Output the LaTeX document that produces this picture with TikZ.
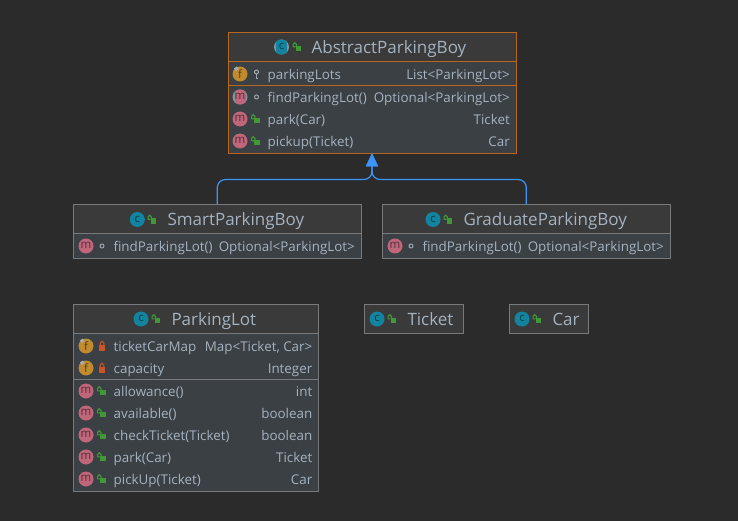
\documentclass[tikz,border=0pt]{standalone}
\usepackage{fontspec}
\setmainfont{Open Sans}
\usetikzlibrary{arrows.meta}
\definecolor{bg}{HTML}{2B2B2B}
\definecolor{headbg}{HTML}{3A3A3A}
\definecolor{bodybg}{HTML}{3B4044}
\definecolor{edge}{HTML}{77797B}
\definecolor{sel}{HTML}{B9661F}
\definecolor{txt}{HTML}{A5B2C0}
\definecolor{teal}{HTML}{12849F}
\definecolor{pink}{HTML}{C0667A}
\definecolor{gold}{HTML}{C08A2E}
\definecolor{lockg}{HTML}{3F9A35}
\definecolor{locko}{HTML}{C9542A}
\definecolor{dotc}{HTML}{9AA5B0}
\definecolor{blue}{HTML}{3D94F6}
\newcounter{nn}
\tikzset{
  x=1pt,y=-1pt,
  boxshape/.style={rectangle,inner sep=0,outer sep=0,line width=1pt},
  titletext/.style={anchor=base west,inner sep=0,text=txt,font=\fontsize{17}{18}\selectfont},
  rowtext/.style={anchor=base west,inner sep=0,text=txt,font=\fontsize{13.4}{15}\selectfont},
  rowtype/.style={anchor=base east,inner sep=0,text=txt,font=\fontsize{13.4}{15}\selectfont},
  badge/.style={circle,inner sep=0,minimum size=15pt,text=#1!45!black,font=\fontsize{11.5}{12}\selectfont},
  conn/.style={draw=blue,line width=1.2pt,rounded corners=8pt,-{Triangle[length=13pt,width=12pt,fill=blue]}},
}
% class box: name, x1,y1,x2,y2, header bottom, border colour
\newcommand{\classbox}[7]{%
  \node[boxshape,fill=bodybg,minimum width={(#4-#2)*1pt},minimum height={(#5-#3)*1pt}] (#1) at ({(#2+#4)/2},{(#3+#5)/2}) {};
  \fill[headbg] (#2,#3) rectangle (#4,#6);
  \draw[#7,line width=1pt] (#2,#3) rectangle (#4,#5);
  \draw[#7,line width=1pt] (#2,#6) -- (#4,#6);
}
\newcommand{\badge}[4]{% x,y,colour,letter
  \stepcounter{nn}%
  \node[badge=#3,fill=#3] (n\arabic{nn}) at (#1,#2) {\raisebox{0.3pt}{#4}};
}
\newcommand{\absbadge}[4]{%
  \fill[dotc!80!bodybg] (#1,#2) circle (7.5);
  \stepcounter{nn}%
  \begin{scope}
    \clip (#1,#2) circle (7.5);
    \fill[#3] ({#1-5.5},{#2-8}) rectangle ({#1+5.5},{#2+8});
  \end{scope}
  \node[inner sep=0,text=#3!45!black,font=\fontsize{11.5}{12}\selectfont] (n\arabic{nn}) at (#1,#2) {\raisebox{0.3pt}{#4}};
}
\newcommand{\openlock}[2]{%
  \fill[lockg] ({#1-2},{#2-1}) rectangle ({#1+3.8},{#2+4.4});
  \draw[lockg,line width=1.1pt] ({#1-2},{#2-0.2}) -- ({#1-4.4},{#2-0.2}) -- ({#1-4.4},{#2-2.6}) arc[start angle=180,end angle=360,x radius=1.7,y radius=1.7] -- ({#1-1},{#2-1});
}
\newcommand{\closedlock}[2]{%
  \fill[locko] ({#1-3},{#2-1}) rectangle ({#1+3},{#2+4.5});
  \draw[locko,line width=1.1pt] ({#1-1.8},{#2-1}) -- ({#1-1.8},{#2-3}) arc[start angle=180,end angle=360,x radius=1.8,y radius=1.8] -- ({#1+1.8},{#2-1});
}
\newcommand{\dotmark}[2]{\draw[dotc,line width=1pt] (#1,#2) circle (2);}
\newcommand{\keymark}[2]{%
  \draw[dotc,line width=1.1pt] (#1,{#2-2}) circle (2);
  \draw[dotc,line width=1.1pt] (#1,{#2}) -- (#1,{#2+4.4}) -- ({#1+1.8},{#2+4.4});
}
\newcommand{\goldtick}[2]{\fill[dotc!90!white] ({#1-6},{#2-5.5}) -- ({#1-3.5},{#2-7.5}) -- ({#1-1.5},{#2-5.5}) -- ({#1-4},{#2-3}) -- cycle;}
\newcommand{\rowtexts}[5]{% xleft, xright, y, name, type
  \stepcounter{nn}\node[rowtext] (n\arabic{nn}) at (#1,{#3+5.4}) {#4};
  \stepcounter{nn}\node[rowtype] (n\arabic{nn}) at (#2,{#3+5.4}) {#5};
}
\newcommand{\titletext}[3]{\stepcounter{nn}\node[titletext] (n\arabic{nn}) at (#1,{#2+6.2}) {#3};}
\begin{document}
\begin{tikzpicture}
\useasboundingbox (0,0) rectangle (738,521);
\fill[bg] (0,0) rectangle (738,521);

% AbstractParkingBoy
\classbox{abstract}{228}{32.7}{516}{153.3}{61.3}{sel}
\draw[sel,line width=1pt] (228,85.3) -- (516,85.3);
\absbadge{281.5}{47}{teal}{c}\openlock{297.5}{47}
\titletext{311.5}{47}{AbstractParkingBoy}
\badge{240}{74}{gold}{f}\goldtick{240}{74}\keymark{256.5}{74}
\rowtexts{267.5}{510}{74}{parkingLots}{List<ParkingLot>}
\absbadge{240}{97}{pink}{m}\dotmark{256.5}{97}
\rowtexts{267.5}{510}{97}{findParkingLot()}{Optional<ParkingLot>}
\badge{240}{119}{pink}{m}\openlock{256}{119}
\rowtexts{267.5}{510}{119}{park(Car)}{Ticket}
\badge{240}{141}{pink}{m}\openlock{256}{141}
\rowtexts{267.5}{510}{141}{pickup(Ticket)}{Car}

% SmartParkingBoy
\classbox{smart}{73.3}{204.3}{361.3}{258.3}{233.3}{edge}
\badge{137.3}{219.5}{teal}{c}\openlock{152.5}{219.5}
\titletext{167.3}{219.5}{SmartParkingBoy}
\badge{86}{246}{pink}{m}\dotmark{102}{246}
\rowtexts{113.3}{355}{246}{findParkingLot()}{Optional<ParkingLot>}

% GraduateParkingBoy
\classbox{graduate}{382.3}{204.3}{670.3}{258.3}{233.3}{edge}
\badge{433}{219.5}{teal}{c}\openlock{448.5}{219.5}
\titletext{463.3}{219.5}{GraduateParkingBoy}
\badge{395}{246}{pink}{m}\dotmark{411}{246}
\rowtexts{422.3}{664}{246}{findParkingLot()}{Optional<ParkingLot>}

% ParkingLot
\classbox{lot}{73.3}{304.7}{318.3}{491}{333.3}{edge}
\draw[edge,line width=1pt] (73.3,379) -- (318.3,379);
\badge{141}{319}{teal}{c}\openlock{156.5}{319}
\titletext{171.3}{319}{ParkingLot}
\badge{86}{346}{gold}{f}\goldtick{86}{346}\closedlock{102}{346}
\rowtexts{113.5}{312.5}{346}{ticketCarMap}{Map<Ticket, Car>}
\badge{86}{368}{gold}{f}\goldtick{86}{368}\closedlock{102}{368}
\rowtexts{113.5}{312.5}{368}{capacity}{Integer}
\badge{86}{391}{pink}{m}\openlock{102}{391}
\rowtexts{113.5}{312.5}{391}{allowance()}{int}
\badge{86}{413}{pink}{m}\openlock{102}{413}
\rowtexts{113.5}{312.5}{413}{available()}{boolean}
\badge{86}{435}{pink}{m}\openlock{102}{435}
\rowtexts{113.5}{312.5}{435}{checkTicket(Ticket)}{boolean}
\badge{86}{457}{pink}{m}\openlock{102}{457}
\rowtexts{113.5}{312.5}{457}{park(Car)}{Ticket}
\badge{86}{479}{pink}{m}\openlock{102}{479}
\rowtexts{113.5}{312.5}{479}{pickUp(Ticket)}{Car}

% Ticket
\classbox{ticket}{364.3}{304.3}{463.3}{333.3}{333.3}{edge}
\badge{377}{319}{teal}{c}\openlock{392.5}{319}
\titletext{407.3}{319}{Ticket}

% Car
\classbox{car}{509.3}{304.3}{588.7}{333.3}{333.3}{edge}
\badge{522}{319}{teal}{c}\openlock{537.5}{319}
\titletext{552.3}{319}{Car}

% Inheritance
\coordinate (bus) at (372,179.5);
\path[conn] (smart.north) |- (bus) -- (abstract.south);
\path[conn] (graduate.north) |- (bus) -- (abstract.south);
\end{tikzpicture}
\end{document}
